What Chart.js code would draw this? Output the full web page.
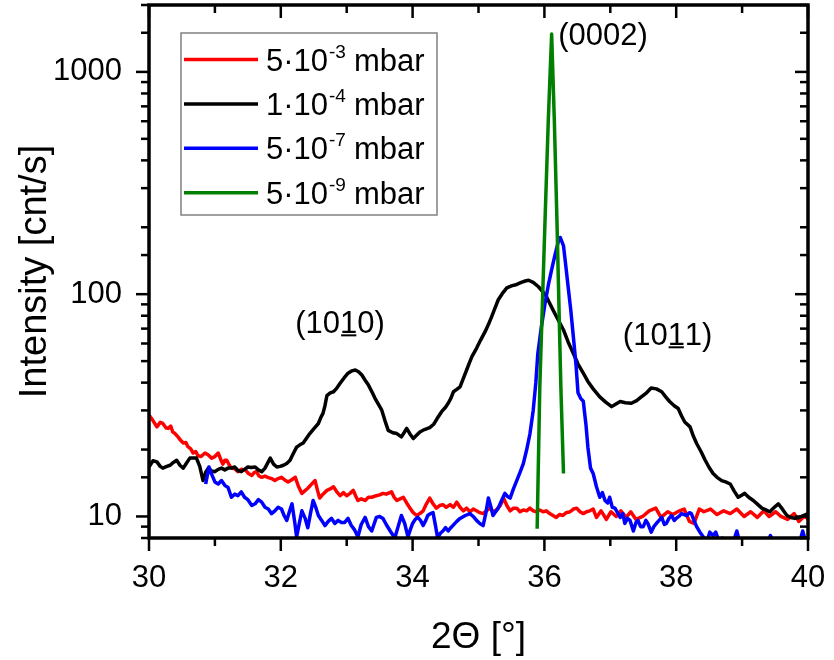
<!DOCTYPE html>
<html><head><meta charset="utf-8">
<script src="https://cdn.jsdelivr.net/npm/chart.js@4.4.1/dist/chart.umd.min.js"></script>
<style>html,body{margin:0;padding:0;background:#fff}#wrap{width:834px;height:660px}</style>
</head><body><div id="wrap"><canvas id="c" width="834" height="660"></canvas></div>
<script>
// ---- data: [2Theta (deg), intensity (cnt/s)] ----
const red5e3 = [[30.00,28.6],[30.06,27.0],[30.12,25.3],[30.17,26.5],[30.21,26.2],[30.26,25.0],[30.29,24.9],[30.33,25.5],[30.36,24.0],[30.40,23.5],[30.44,22.8],[30.48,22.0],[30.52,21.4],[30.56,21.5],[30.59,20.6],[30.63,20.2],[30.67,19.3],[30.71,19.6],[30.74,18.8],[30.79,18.6],[30.85,19.3],[30.90,18.9],[30.95,18.3],[31.00,18.6],[31.05,19.3],[31.09,18.0],[31.12,17.2],[31.15,17.9],[31.18,17.9],[31.22,17.0],[31.25,16.5],[31.30,16.4],[31.35,15.9],[31.40,16.3],[31.46,16.2],[31.51,15.6],[31.56,15.3],[31.60,15.8],[31.63,15.9],[31.67,15.2],[31.71,15.0],[31.76,15.2],[31.80,15.0],[31.86,14.8],[31.91,14.5],[31.96,14.8],[32.01,15.0],[32.06,14.6],[32.11,14.3],[32.16,14.6],[32.22,15.0],[32.27,13.6],[32.32,12.7],[32.36,13.0],[32.41,13.4],[32.46,13.9],[32.52,14.5],[32.56,13.0],[32.59,12.1],[32.64,12.6],[32.70,13.1],[32.75,13.3],[32.80,13.6],[32.85,12.9],[32.90,12.4],[32.95,12.8],[33.00,12.4],[33.05,12.7],[33.10,13.1],[33.14,12.3],[33.17,11.8],[33.22,12.0],[33.28,11.8],[33.33,12.2],[33.38,12.2],[33.45,12.4],[33.50,12.5],[33.55,12.7],[33.60,12.6],[33.68,12.9],[33.72,12.2],[33.76,11.8],[33.81,12.0],[33.86,12.2],[33.91,11.5],[33.96,10.9],[34.01,10.4],[34.06,10.1],[34.11,10.3],[34.16,10.6],[34.21,11.4],[34.26,12.1],[34.31,11.4],[34.36,10.9],[34.41,11.2],[34.46,11.3],[34.51,11.0],[34.57,11.3],[34.62,11.0],[34.67,11.6],[34.72,11.0],[34.77,10.6],[34.82,10.9],[34.87,10.5],[34.92,10.8],[34.97,10.6],[35.02,10.4],[35.07,10.3],[35.12,10.6],[35.17,10.9],[35.22,10.5],[35.27,10.7],[35.33,11.2],[35.38,12.1],[35.43,11.2],[35.48,10.6],[35.53,10.9],[35.58,10.9],[35.63,10.5],[35.68,10.7],[35.73,10.6],[35.78,10.9],[35.83,10.6],[35.88,10.5],[35.93,10.7],[35.98,10.5],[36.03,10.6],[36.08,10.3],[36.13,10.1],[36.18,9.9],[36.23,10.2],[36.28,10.1],[36.33,10.4],[36.39,10.5],[36.44,10.8],[36.49,10.9],[36.54,10.5],[36.59,10.3],[36.64,10.5],[36.69,10.6],[36.74,10.8],[36.79,9.9],[36.86,10.6],[36.94,9.7],[37.01,10.5],[37.09,10.0],[37.16,10.6],[37.24,9.9],[37.31,10.5],[37.39,9.7],[37.49,10.0],[37.59,10.6],[37.69,10.9],[37.77,9.9],[37.87,10.5],[37.95,10.2],[38.05,10.6],[38.12,10.8],[38.20,9.5],[38.27,9.3],[38.35,10.8],[38.42,10.5],[38.52,10.8],[38.62,10.2],[38.72,10.6],[38.82,10.3],[38.92,10.8],[39.03,10.0],[39.13,10.5],[39.23,9.9],[39.33,10.6],[39.41,10.0],[39.51,10.5],[39.59,10.0],[39.69,9.7],[39.79,10.3],[39.86,9.5],[39.94,10.0],[40.00,9.8]];

const black1e4 = [[30.00,16.7],[30.06,17.8],[30.12,17.6],[30.17,16.8],[30.21,16.5],[30.27,16.8],[30.32,17.0],[30.37,17.5],[30.42,17.9],[30.47,17.0],[30.52,16.5],[30.57,17.4],[30.62,18.3],[30.67,18.3],[30.72,18.3],[30.77,16.8],[30.82,14.5],[30.86,15.8],[30.90,16.5],[30.95,16.0],[31.00,15.9],[31.05,16.3],[31.10,16.5],[31.15,16.2],[31.20,16.5],[31.25,16.5],[31.30,16.7],[31.35,16.1],[31.40,15.9],[31.45,16.3],[31.50,16.7],[31.55,16.6],[31.61,16.7],[31.66,16.2],[31.71,15.9],[31.76,16.5],[31.84,18.3],[31.89,17.2],[31.94,16.7],[31.99,16.8],[32.04,17.0],[32.09,17.3],[32.14,17.9],[32.19,19.2],[32.24,20.5],[32.29,21.0],[32.34,21.4],[32.39,22.5],[32.44,23.6],[32.50,24.8],[32.57,26.2],[32.61,28.0],[32.64,29.1],[32.67,31.5],[32.70,35.0],[32.75,36.0],[32.80,36.4],[32.85,37.8],[32.90,39.7],[32.96,42.0],[33.02,44.1],[33.08,45.2],[33.13,45.6],[33.18,44.8],[33.23,43.3],[33.28,41.0],[33.33,39.0],[33.38,36.5],[33.43,34.0],[33.48,32.0],[33.53,30.2],[33.58,27.0],[33.63,24.4],[33.70,23.8],[33.76,23.6],[33.83,22.8],[33.87,23.8],[33.91,24.9],[33.96,23.5],[34.01,22.4],[34.06,23.2],[34.11,24.0],[34.18,24.6],[34.26,25.1],[34.32,26.0],[34.37,27.5],[34.44,29.6],[34.50,31.0],[34.54,32.3],[34.58,34.0],[34.62,36.4],[34.67,37.3],[34.72,38.3],[34.77,41.8],[34.82,45.6],[34.86,49.0],[34.90,52.4],[34.97,57.1],[35.03,62.0],[35.10,67.8],[35.15,73.0],[35.20,79.3],[35.25,86.5],[35.30,94.4],[35.36,100.5],[35.43,106.7],[35.50,109.0],[35.58,110.6],[35.65,113.0],[35.71,114.6],[35.76,115.5],[35.83,113.0],[35.91,108.0],[35.97,103.0],[36.03,97.7],[36.08,91.0],[36.13,85.0],[36.21,76.5],[36.29,69.0],[36.36,61.0],[36.44,54.1],[36.51,48.5],[36.59,44.1],[36.66,40.5],[36.74,37.5],[36.84,34.5],[36.93,32.7],[37.02,31.2],[37.08,32.0],[37.15,32.9],[37.23,32.5],[37.32,32.3],[37.40,33.2],[37.47,34.5],[37.55,36.0],[37.62,37.8],[37.70,37.5],[37.78,36.4],[37.84,34.5],[37.90,32.9],[37.97,31.5],[38.03,30.6],[38.08,28.4],[38.13,26.6],[38.21,25.3],[38.26,23.0],[38.31,21.3],[38.38,19.5],[38.44,17.9],[38.50,16.6],[38.56,15.6],[38.62,15.0],[38.69,14.5],[38.75,14.3],[38.82,14.0],[38.88,13.0],[38.94,12.2],[39.00,12.5],[39.04,12.7],[39.10,12.2],[39.17,11.8],[39.24,11.3],[39.30,10.9],[39.36,10.7],[39.42,10.5],[39.49,11.0],[39.55,11.4],[39.62,10.7],[39.68,10.1],[39.74,9.9],[39.80,9.8],[39.87,9.9],[39.93,10.1],[40.00,10.3]];

const blue5e7 = [[30.86,14.0],[30.91,16.7],[30.95,15.5],[31.00,14.3],[31.05,14.0],[31.10,14.5],[31.15,13.8],[31.20,13.5],[31.25,12.2],[31.30,12.6],[31.35,12.4],[31.40,12.9],[31.45,12.2],[31.50,11.9],[31.56,11.2],[31.61,11.4],[31.66,11.9],[31.71,11.6],[31.76,11.0],[31.81,10.8],[31.86,10.3],[31.91,10.6],[31.96,11.0],[32.01,10.8],[32.05,10.1],[32.09,9.6],[32.13,10.5],[32.17,11.4],[32.21,9.5],[32.24,8.1],[32.28,9.3],[32.32,10.6],[32.37,9.8],[32.41,8.9],[32.45,10.3],[32.49,11.8],[32.53,11.0],[32.57,10.1],[32.62,9.6],[32.67,9.1],[32.72,9.5],[32.77,9.8],[32.82,9.3],[32.87,9.6],[32.92,9.4],[32.97,9.4],[33.02,9.8],[33.07,9.1],[33.12,8.7],[33.17,8.1],[33.22,9.2],[33.28,9.9],[33.33,9.0],[33.38,8.6],[33.45,9.9],[33.50,10.0],[33.55,9.8],[33.60,9.2],[33.66,8.6],[33.73,8.0],[33.78,9.0],[33.83,10.1],[33.88,9.3],[33.93,8.1],[33.97,8.8],[34.00,9.3],[34.04,9.7],[34.08,9.9],[34.12,9.6],[34.16,9.1],[34.20,9.6],[34.23,10.1],[34.27,10.3],[34.31,10.4],[34.35,9.0],[34.38,8.0],[34.42,8.4],[34.46,8.6],[34.50,8.9],[34.54,8.6],[34.58,8.9],[34.61,9.1],[34.67,9.5],[34.72,9.8],[34.80,10.1],[34.87,10.3],[34.92,10.0],[34.97,9.6],[35.02,9.3],[35.07,9.1],[35.11,10.3],[35.15,12.1],[35.19,11.0],[35.22,10.1],[35.26,10.5],[35.30,10.9],[35.35,11.8],[35.40,12.7],[35.44,12.3],[35.48,12.1],[35.53,13.3],[35.58,14.5],[35.63,15.8],[35.68,17.3],[35.73,19.9],[35.78,23.5],[35.83,30],[35.87,40],[35.90,54],[35.95,70],[36.01,91],[36.06,110],[36.11,129],[36.16,150],[36.21,172],[36.24,180],[36.29,165],[36.33,130],[36.36,108],[36.40,85],[36.44,64],[36.48,48],[36.51,36],[36.55,34],[36.59,33],[36.63,26],[36.66,20.5],[36.70,16.5],[36.74,15.6],[36.79,13.6],[36.84,12.2],[36.88,12.8],[36.92,11.8],[36.96,11.5],[36.99,12.2],[37.03,11.0],[37.07,10.9],[37.11,10.4],[37.15,9.9],[37.19,10.3],[37.22,9.3],[37.26,9.8],[37.30,9.6],[37.35,8.6],[37.39,9.4],[37.42,9.6],[37.46,9.0],[37.50,9.0],[37.54,9.6],[37.57,9.3],[37.62,8.5],[37.66,9.0],[37.70,9.3],[37.74,9.6],[37.78,9.9],[37.82,9.2],[37.85,9.3],[37.89,9.8],[37.93,10.1],[37.97,9.6],[38.00,9.8],[38.04,10.0],[38.08,10.3],[38.12,10.2],[38.16,10.1],[38.20,10.4],[38.23,10.3],[38.27,9.6],[38.31,9.0],[38.36,8.5],[38.41,8.1],[38.46,7.6],[38.51,8.5],[38.56,8.2],[38.60,8.5],[38.65,7.7],[38.70,8.0],[38.75,7.5],[38.80,7.3],[38.86,7.6],[38.92,8.6],[38.97,7.5],[39.05,7.2],[39.12,7.6],[39.20,7.4],[39.28,7.7],[39.35,7.3],[39.43,8.2],[39.50,7.5],[39.58,7.3],[39.66,7.6],[39.74,7.4],[39.82,7.5],[39.88,7.8],[39.92,8.6],[39.97,7.6],[40.00,8.0]];

const green5e9 = [[35.89,8.8],[35.93,38],[36.01,217],[36.06,616],[36.11,1480],[36.15,616],[36.19,217],[36.25,38],[36.29,15.6]];

const seriesLabels = ['5·10', '1·10', '5·10', '5·10'];
const seriesExponents = ['-3', '-4', '-7', '-9'];
const seriesUnit = 'mbar';
const seriesColors = ['#ff0000', '#000000', '#0000ff', '#007f00'];
const xTickValues = [30, 32, 34, 36, 38, 40];
const yTickValues = [10, 100, 1000];

const annotations = [
  {pre: '(', mid: '', post: '0002)', theta: 36.21, intensity: 1315},
  {pre: '(10', mid: '1', post: '0)', theta: 32.22, intensity: 67},
  {pre: '(10', mid: '1', post: '1)', theta: 37.19, intensity: 59.2}
];

const FONT = '"Liberation Sans", Arial, sans-serif';
Chart.defaults.color = '#000';
Chart.defaults.font.family = FONT;

const toPts = arr => arr.map(p => ({x: p[0], y: p[1]}));

const frameTicks = {
  id: 'frameTicks',
  afterDraw(chart) {
    const {ctx, chartArea: a, scales: {x, y}} = chart;
    ctx.save();
    ctx.strokeStyle = '#000';
    const line = (x1, y1, x2, y2) => { ctx.beginPath(); ctx.moveTo(x1, y1); ctx.lineTo(x2, y2); ctx.stroke(); };
    ctx.lineWidth = 2.5;
    y.ticks.forEach(t => {
      const v = t.value;
      const lg = Math.log10(v);
      const major = Math.abs(lg - Math.round(lg)) < 1e-9;
      const py = y.getPixelForValue(v);
      const len = major ? 13 : 8;
      line(a.left, py, a.left - len, py);
      line(a.right, py, a.right - len, py);
    });
    x.ticks.forEach(t => {
      const v = t.value;
      const major = Math.round(v) % 2 === 0;
      const px = x.getPixelForValue(v);
      const len = major ? 13 : 8;
      line(px, a.bottom, px, a.bottom + len);
      line(px, a.top, px, a.top + len);
    });
    ctx.lineWidth = 3.5;
    ctx.strokeRect(a.left, a.top, a.right - a.left, a.bottom - a.top);
    ctx.restore();
  }
};

const legendAndLabels = {
  id: 'legendAndLabels',
  afterDraw(chart) {
    const {ctx, scales: {x, y}} = chart;
    ctx.save();
    // legend
    ctx.fillStyle = '#fff';
    ctx.fillRect(181, 33, 256, 182);
    ctx.strokeStyle = '#808080';
    ctx.lineWidth = 1.5;
    ctx.strokeRect(181, 33, 256, 182);
    ctx.textBaseline = 'alphabetic';
    ctx.textAlign = 'left';
    seriesLabels.forEach((lab, i) => {
      const ry = 59.5 + i * 44.4;
      ctx.strokeStyle = seriesColors[i];
      ctx.lineWidth = 3.5;
      ctx.beginPath(); ctx.moveTo(184, ry); ctx.lineTo(258, ry); ctx.stroke();
      ctx.fillStyle = '#000';
      let tx = 266;
      const base = ry + 11;
      ctx.font = '31px ' + FONT;
      ctx.fillText(lab, tx, base);
      tx += ctx.measureText(lab).width + 1;
      ctx.font = '19px ' + FONT;
      ctx.fillText(seriesExponents[i], tx, base - 13);
      tx += ctx.measureText(seriesExponents[i]).width + 8;
      ctx.font = '31px ' + FONT;
      ctx.fillText(seriesUnit, tx, base);
    });
    // peak labels
    ctx.font = '31px ' + FONT;
    annotations.forEach(an => {
      let px = x.getPixelForValue(an.theta);
      const py = y.getPixelForValue(an.intensity);
      ctx.fillText(an.pre, px, py);
      px += ctx.measureText(an.pre).width;
      if (an.mid) {
        const w = ctx.measureText(an.mid).width;
        ctx.fillText(an.mid, px, py);
        ctx.lineWidth = 2; ctx.strokeStyle = '#000';
        ctx.beginPath(); ctx.moveTo(px + 1, py + 2.5); ctx.lineTo(px + w - 1, py + 2.5); ctx.stroke();
        px += w;
      }
      ctx.fillText(an.post, px, py);
    });
    ctx.restore();
  }
};

const mk = (label, arr, color, order) => ({
  label, data: toPts(arr), borderColor: color, backgroundColor: color,
  borderWidth: 3.5, pointRadius: 0, tension: 0, order, borderJoinStyle: 'round', fill: false
});

new Chart(document.getElementById('c'), {
  type: 'line',
  data: {
    datasets: [
      mk('5·10⁻³ mbar', red5e3, seriesColors[0], 4),
      mk('1·10⁻⁴ mbar', black1e4, seriesColors[1], 3),
      mk('5·10⁻⁷ mbar', blue5e7, seriesColors[2], 2),
      mk('5·10⁻⁹ mbar', green5e9, seriesColors[3], 1)
    ]
  },
  options: {
    responsive: false,
    animation: false,
    devicePixelRatio: 1,
    layout: {padding: {left: 0, right: 26, top: 5, bottom: 0}},
    plugins: {legend: {display: false}, tooltip: {enabled: false}},
    scales: {
      x: {
        type: 'linear', min: 30, max: 40,
        grid: {display: false, drawTicks: false},
        border: {display: false},
        ticks: {
          stepSize: 1, autoSkip: false, maxRotation: 0, padding: 22,
          font: {size: 31, family: FONT}, color: '#000',
          callback: v => xTickValues.includes(v) ? String(v) : ''
        },
        title: {display: true, text: '2Θ [°]', font: {size: 37, family: FONT}, color: '#000', padding: {top: 6, bottom: 0}},
        afterFit: s => { s.height = 122; s.paddingLeft = 0; s.paddingRight = 0; }
      },
      y: {
        type: 'logarithmic', min: 8, max: 2000,
        grid: {display: false, drawTicks: false},
        border: {display: false},
        ticks: {
          autoSkip: false, padding: 27,
          font: {size: 31, family: FONT}, color: '#000',
          callback: v => yTickValues.includes(Number(v)) ? String(v) : ''
        },
        title: {display: true, text: 'Intensity [cnt/s]', font: {size: 38, family: FONT}, color: '#000', padding: {top: 13, bottom: 0}},
        afterFit: s => { s.width = 149; s.paddingTop = 0; s.paddingBottom = 0; }
      }
    }
  },
  plugins: [frameTicks, legendAndLabels]
});
</script>
</body></html>
